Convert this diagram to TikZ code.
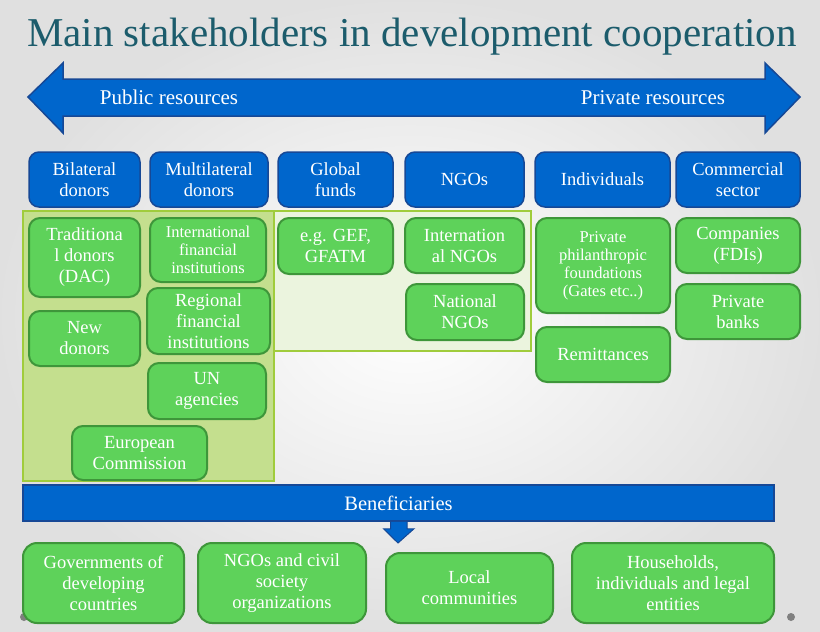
\documentclass[tikz,border=0pt]{standalone}
\usepackage{fontspec}
\setmainfont{Liberation Serif}
\usepackage{tikz}
\usetikzlibrary{calc}
\definecolor{titleteal}{RGB}{28,92,108}
\definecolor{hdrblue}{RGB}{0,102,204}
\definecolor{hdrline}{RGB}{22,72,150}
\definecolor{actgreen}{RGB}{94,210,90}
\definecolor{actline}{RGB}{62,150,58}
\definecolor{publicbg}{RGB}{196,223,142}
\definecolor{mixedbg}{RGB}{235,244,222}
\definecolor{bgline}{RGB}{160,204,60}
\tikzset{
 hdr/.style={draw=hdrline, fill=hdrblue, line width=1.5pt, rounded corners=10pt, text=white, align=center, inner sep=0pt, font=\fontsize{18.5}{21}\selectfont},
 actor/.style={draw=actline, fill=actgreen, line width=2pt, rounded corners=11pt, text=white, align=center, inner sep=0pt, font=\fontsize{18.5}{21}\selectfont},
 smalltxt/.style={font=\fontsize{16.5}{18}\selectfont},
 benef/.style={actor, rounded corners=14pt},
 bar/.style={draw=hdrline, fill=hdrblue, line width=1.5pt, inner sep=0pt, text=white, font=\fontsize{20.5}{23}\selectfont},
 arrowlbl/.style={text=white, anchor=base, font=\fontsize{21}{24}\selectfont}
}

\begin{document}
\begin{tikzpicture}[x=1pt, y=-1pt]
\useasboundingbox (0,0) rectangle (820,632);
\shade[inner color=white, outer color=black!12] (0,0) rectangle (820,632);
\node[text=titleteal, anchor=base, font=\fontsize{41}{45}\selectfont] (title) at (412,46) {Main stakeholders in development cooperation};
\draw[draw=hdrline, fill=hdrblue, line width=1.5pt, line join=miter] (28,97) -- (63,63) -- (63,79) -- (765,79) -- (765,63) -- (800,97) -- (765,133) -- (765,116) -- (63,116) -- (63,133) -- cycle;
\node[arrowlbl] (pub) at (169,104) {Public resources};
\node[arrowlbl] (priv) at (653,104) {Private resources};

\draw[fill=mixedbg, draw=bgline, line width=2pt] (274,211) rectangle (531,351);
\draw[fill=publicbg, draw=bgline, line width=2pt] (23,211) rectangle (274,481);

\foreach \nm/\cx/\w/\txt in {bil/84.5/111/{Bilateral\\donors}, mul/209/118/{Multilateral\\donors}, glo/335.5/115/{Global\\funds}, ngo/464.5/119/{NGOs}, ind/602.5/135/{Individuals}, com/738/124/{Commercial\\sector}}
 \node[hdr, minimum width=\w, minimum height=55] (\nm) at (\cx,179.5) {\txt};

\node[actor, minimum width=111, minimum height=79] (trad) at (84.5,257.5) {Traditiona\\l donors\\(DAC)};
\node[actor, minimum width=111, minimum height=55] (newd) at (84.5,338.5) {New\\donors};
\node[actor, smalltxt, minimum width=116, minimum height=64] (ifi) at (208,250) {International\\financial\\institutions};
\node[actor, minimum width=123, minimum height=66] (rfi) at (208.5,321) {Regional\\financial\\institutions};
\node[actor, minimum width=118, minimum height=56] (un) at (207,391) {UN\\agencies};
\node[actor, minimum width=135, minimum height=54] (ec) at (139.5,453) {European\\Commission};
\node[actor, minimum width=115, minimum height=56] (gef) at (335.5,246) {e.g. GEF,\\GFATM};
\node[actor, minimum width=119, minimum height=55] (ingo) at (464.5,245.5) {Internation\\al NGOs};
\node[actor, minimum width=118, minimum height=56] (nngo) at (465,312) {National\\NGOs};
\node[actor, smalltxt, minimum width=134, minimum height=95] (ppf) at (603,265.5) {Private\\philanthropic\\foundations\\(Gates etc..)};
\node[actor, minimum width=134, minimum height=55] (rem) at (603,354.5) {Remittances};
\node[actor, minimum width=124, minimum height=55] (fdi) at (738,245.5) {Companies\\(FDIs)};
\node[actor, minimum width=124, minimum height=55] (pbank) at (738,311.5) {Private\\banks};

\node[bar, minimum width=751, minimum height=36] (bar) at (398.5,503) {Beneficiaries};
\coordinate (tip) at (398,543);
\draw[draw=hdrline, fill=hdrblue, line width=1pt, line join=miter] ($(bar.south)+(-8,0)$) -- ++(0,7) -- ++(-7,0) -- (tip) -- ($(bar.south)+(15.5,7)$) -- ++(-7,0) -- ++(0,-7);

\fill[gray] (24,617) circle (4);
\fill[gray] (791,617) circle (4);
\foreach \nm/\cx/\w/\txt in {gov/103.5/161/{Governments of\\developing\\countries}, cso/282/168/{NGOs and civil\\society\\organizations}, hh/673/202/{Households,\\individuals and legal\\entities}}
 \node[benef, minimum width=\w, minimum height=80] (\nm) at (\cx,583) {\txt};
\node[benef, minimum width=167, minimum height=70] (loc) at (469.5,588) {Local\\communities};
\end{tikzpicture}
\end{document}
